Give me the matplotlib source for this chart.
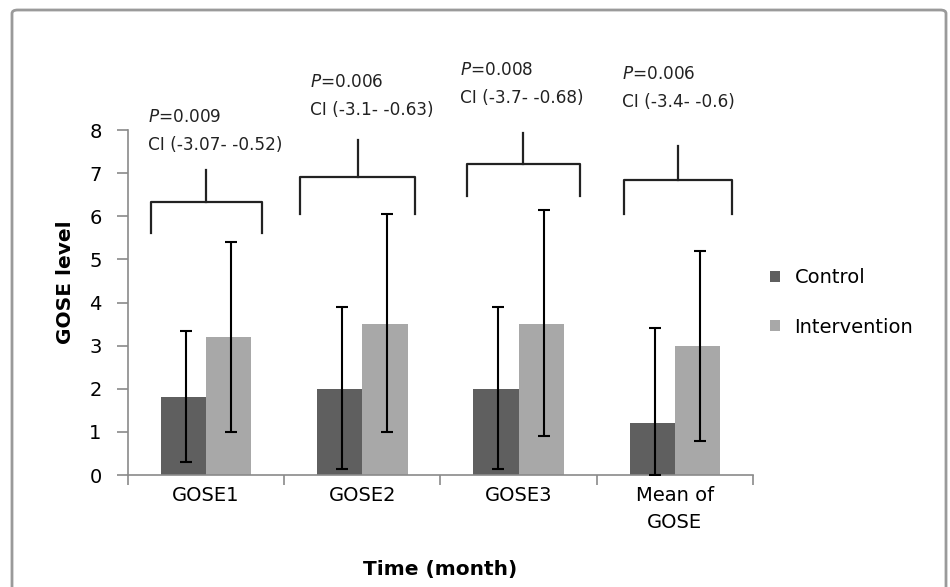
import matplotlib.pyplot as plt
from matplotlib.patches import FancyBboxPatch
import numpy as np

plt.rcParams['font.family'] = ['DejaVu Sans']

# Data
categories = ["GOSE1", "GOSE2", "GOSE3", "Mean of\nGOSE"]
control = [1.8, 2.0, 2.0, 1.2]
control_err_low = [1.5, 1.85, 1.85, 1.2]
control_err_high = [1.55, 1.9, 1.9, 2.2]
intervention = [3.2, 3.5, 3.5, 3.0]
interv_err_low = [2.2, 2.5, 2.6, 2.2]
interv_err_high = [2.2, 2.55, 2.65, 2.2]
p_values = ["0.009", "0.006", "0.008", "0.006"]
ci_labels = ["CI (-3.07- -0.52)", "CI (-3.1- -0.63)", "CI (-3.7- -0.68)", "CI (-3.4- -0.6)"]

# bracket geometry (data units)
bracket_center = [0.0, 0.97, 2.03, 3.02]
bracket_half = [0.355, 0.37, 0.36, 0.345]
bracket_y = [6.33, 6.90, 7.22, 6.83]
bracket_leg = [5.61, 6.06, 6.47, 6.06]
bracket_top = [7.08, 7.76, 7.94, 7.64]
text_x = [-0.37, 0.665, 1.625, 2.66]
text_y = [7.66, 8.47, 8.75, 8.66]

fig = plt.figure(figsize=(9.5, 5.87), dpi=100)
ax = fig.add_axes([0.1347, 0.1908, 0.6579, 0.5877])

x = np.arange(len(categories))
w = 0.29
ax.bar(x - w / 2, control, w, color="#5f5f5f", label="Control", zorder=2)
ax.bar(x + w / 2, intervention, w, color="#a8a8a8", label="Intervention", zorder=2)
ax.errorbar(x - w / 2 + 0.015, control, yerr=[control_err_low, control_err_high],
            fmt="none", ecolor="black", elinewidth=1.5, capsize=4, capthick=1.5, zorder=3)
ax.errorbar(x + w / 2 + 0.015, intervention, yerr=[interv_err_low, interv_err_high],
            fmt="none", ecolor="black", elinewidth=1.5, capsize=4, capthick=1.5, zorder=3)

# significance brackets
for i in range(len(categories)):
    c, h = bracket_center[i], bracket_half[i]
    ax.plot([c - h, c - h, c + h, c + h],
            [bracket_leg[i], bracket_y[i], bracket_y[i], bracket_leg[i]],
            color="#222222", lw=1.6, clip_on=False)
    ax.plot([c, c], [bracket_y[i], bracket_top[i]], color="#222222", lw=1.6, clip_on=False)
    ax.text(text_x[i], text_y[i], ci_labels[i], fontsize=12.2, va="center",
            ha="left", color="#222222", clip_on=False)
    ax.text(text_x[i], text_y[i] + 0.65, "$\\it{P}$=" + p_values[i], fontsize=12.2,
            va="center", ha="left", color="#222222", clip_on=False)

ax.set_xlim(-0.5, 3.5)
ax.set_ylim(0, 8)
ax.set_yticks(range(0, 9))
ax.set_xticks(x)
ax.set_xticklabels(categories, fontsize=14, linespacing=1.55)
ax.set_xticks(np.arange(-0.5, 4.0, 1.0), minor=True)
ax.tick_params(axis="x", which="major", length=0, pad=8)
ax.tick_params(axis="x", which="minor", length=7, color="#8a8a8a", width=1.2)
ax.tick_params(axis="y", length=8, color="#8a8a8a", width=1.2, labelsize=14, pad=11)
for s in ["top", "right"]:
    ax.spines[s].set_visible(False)
for s in ["left", "bottom"]:
    ax.spines[s].set_color("#8a8a8a")
    ax.spines[s].set_linewidth(1.2)

ax.set_ylabel("GOSE level", fontsize=14.5, fontweight="bold")
ax.yaxis.set_label_coords(-0.085, 0.56)
ax.set_xlabel("Time (month)", fontsize=14.5, fontweight="bold")
ax.xaxis.set_label_coords(0.5, -0.245)

ax.legend(loc="center left", bbox_to_anchor=(1.027, 0.5), frameon=False,
          fontsize=14, handlelength=0.52, handleheight=0.52, handletextpad=0.75,
          labelspacing=1.55, borderaxespad=0, borderpad=0)

# outer border
border = FancyBboxPatch((12 / 950, -0.05), (946 - 12) / 950, 1.05 - 10 / 587,
                        boxstyle="round,pad=0,rounding_size=0.006",
                        transform=fig.transFigure, fill=False,
                        edgecolor="#9a9a9a", lw=2.0)
fig.patches.append(border)

fig.savefig("out.png", dpi=100)
